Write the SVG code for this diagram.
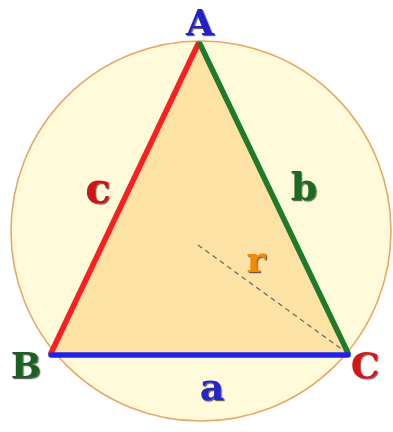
<svg xmlns="http://www.w3.org/2000/svg" width="393" height="432" viewBox="0 0 393 432">
<defs>
<filter id="sh" x="-20%" y="-20%" width="140%" height="140%">
<feDropShadow dx="1.2" dy="1.2" stdDeviation="0.6" flood-color="#000" flood-opacity="0.6"/>
</filter>
<style>
.lbl{font-family:"DejaVu Serif","Liberation Serif",serif;font-weight:bold;text-anchor:middle;filter:url(#sh)}
.side{stroke-width:5.5;stroke-linecap:round;fill:none}
</style>
</defs>
<rect width="393" height="432" fill="#ffffff"/>
<g id="circle">
<circle cx="201" cy="231" r="190" fill="#FFFBDA" stroke="#E9A766" stroke-width="1.6"/>
</g>
<g id="triangle">
<polygon points="199,42 51,354 349,354" fill="#FCE2A4"/>
</g>
<g id="connectors">
<line x1="198" y1="245" x2="347" y2="353" stroke="#666" stroke-width="1.2" stroke-dasharray="5,4"/>
<line class="side" x1="51" y1="353" x2="198" y2="44" stroke="#FF1E1E"/>
<line class="side" x1="200" y1="44" x2="348" y2="353" stroke="#1F7A2A"/>
<line class="side" x1="51" y1="355" x2="348" y2="355" stroke="#2222E6"/>
</g>
<g id="labels">
<text class="lbl" x="200" y="35" font-size="36" fill="#2424C4">A</text>
<text class="lbl" x="26" y="378" font-size="36" fill="#1F5E22">B</text>
<text class="lbl" x="365" y="378" font-size="36" fill="#D41414">C</text>
<text class="lbl" x="212" y="400" font-size="38" fill="#2828C8">a</text>
<text class="lbl" x="304" y="200" font-size="38" fill="#1B6A20">b</text>
<text class="lbl" x="98" y="203" font-size="42" fill="#CC1212">c</text>
<text class="lbl" x="256" y="272" font-size="36" fill="#F28A00">r</text>
</g>
</svg>
